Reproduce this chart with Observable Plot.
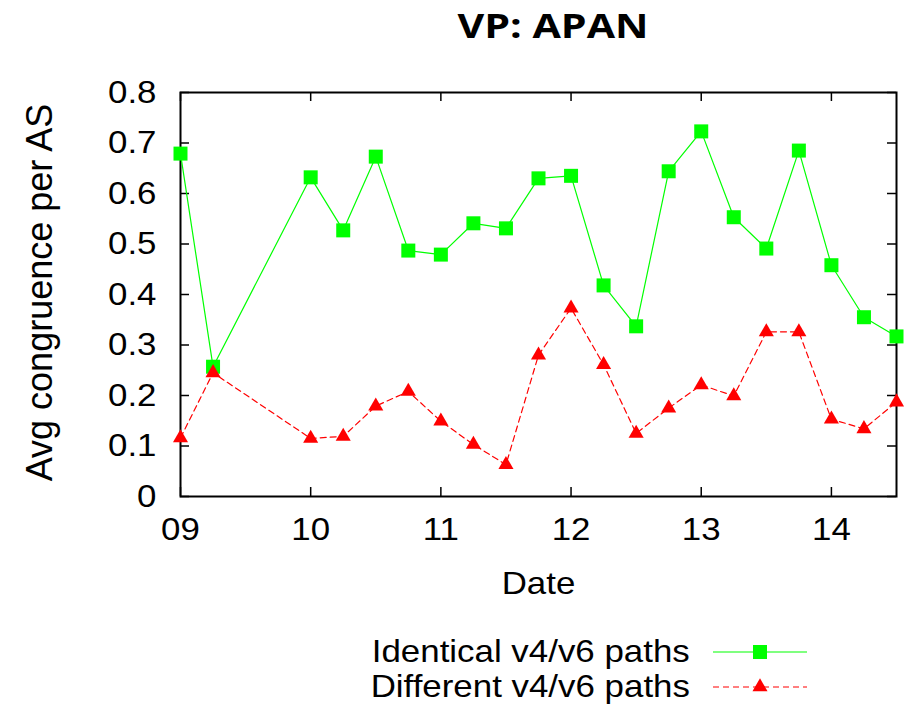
<!DOCTYPE html>
<html><head><meta charset="utf-8">
<script src="https://cdn.jsdelivr.net/npm/d3@7"></script>
<script src="https://cdn.jsdelivr.net/npm/@observablehq/plot@0.6"></script>
<style>
body{margin:0;background:#fff;width:906px;height:706px;overflow:hidden;}
#title{height:50px;line-height:50px;text-align:center;padding-left:200px;width:706px;color:#000;}
#title span{display:inline-block;font-family:"Open Sans",sans-serif;font-weight:700;font-size:34px;transform:scaleX(1.21);transform-origin:center;}
#chart{height:584px;}
#legend{font-family:"Liberation Sans",Arial,sans-serif;font-size:32px;color:#000;}
.lrow{display:flex;height:35px;line-height:35px;}
.ltxt{width:690px;text-align:right;white-space:nowrap;}
.ltxt span{display:inline-block;transform:scaleX(1.09);transform-origin:right center;}
.lrow svg{margin-left:23px;}
</style></head><body>
<div id="title"><span>VP: APAN</span></div>
<div id="chart"></div>
<div id="legend"></div>
<script>
const dates = [9, 9.25, 10, 10.25, 10.5, 10.75, 11, 11.25, 11.5, 11.75, 12, 12.25, 12.5, 12.75, 13, 13.25, 13.5, 13.75, 14, 14.25, 14.5];
const identical = [0.679, 0.257, 0.632, 0.527, 0.673, 0.487, 0.479, 0.541, 0.531, 0.630, 0.635, 0.418, 0.337, 0.644, 0.723, 0.553, 0.491, 0.685, 0.458, 0.355, 0.317];
const different = [0.116, 0.245, 0.115, 0.119, 0.179, 0.208, 0.149, 0.103, 0.063, 0.280, 0.373, 0.261, 0.125, 0.175, 0.221, 0.199, 0.326, 0.326, 0.153, 0.134, 0.187];
const seriesNames = ["Identical v4/v6 paths", "Different v4/v6 paths"];
const seriesColors = ["#00ff00", "#ff0000"];
const xTicks = [9, 10, 11, 12, 13, 14];
const xTickLabels = ["09", "10", "11", "12", "13", "14"];
const yTicks = [0, 0.1, 0.2, 0.3, 0.4, 0.5, 0.6, 0.7, 0.8];
const yTickLabels = ["0", "0.1", "0.2", "0.3", "0.4", "0.5", "0.6", "0.7", "0.8"];

const W = 906, H = 584, mL = 180, mR = 10, mT = 42, mB = 138;
const plotW = W - mL - mR, plotH = H - mT - mB;
const tick = 9;
const FS = 32, SX = 1.09;
const rowsI = dates.map((d, i) => ({date: d, value: identical[i]}));
const rowsD = dates.map((d, i) => ({date: d, value: different[i]}));

const chart = Plot.plot({
  width: W, height: H,
  marginLeft: mL, marginRight: mR, marginTop: mT, marginBottom: mB,
  style: {fontFamily: "'Liberation Sans', Arial, sans-serif", fontSize: FS + "px", color: "#000", background: "#fff", overflow: "visible"},
  x: {domain: [9, 14.5]},
  y: {domain: [0, 0.8]},
  marks: [
    Plot.axisX(xTicks, {tickSize: 0, tickPadding: 21, tickFormat: d => xTickLabels[xTicks.indexOf(d)], label: null, fontSize: FS}),
    Plot.axisY(yTicks, {tickSize: 0, tickPadding: 24, tickFormat: d => yTickLabels[yTicks.indexOf(d)], label: null, fontSize: FS}),
    Plot.ruleX(xTicks, {x: d => d, insetTop: plotH - tick, stroke: "#000", strokeWidth: 1.5}),
    Plot.ruleX(xTicks, {x: d => d, insetBottom: plotH - tick, stroke: "#000", strokeWidth: 1.5}),
    Plot.ruleY(yTicks, {y: d => d, insetRight: plotW - tick, stroke: "#000", strokeWidth: 1.5}),
    Plot.ruleY(yTicks, {y: d => d, insetLeft: plotW - tick, stroke: "#000", strokeWidth: 1.5}),
    Plot.frame({stroke: "#000", strokeWidth: 2}),
    Plot.text(["Date"], {text: d => d, frameAnchor: "bottom", dy: 87, lineAnchor: "middle", fontSize: FS}),
    Plot.text(["Avg congruence per AS"], {text: d => d, frameAnchor: "left", dx: -140, dy: -2, rotate: -90, textAnchor: "middle", lineAnchor: "middle", fontSize: 36}),
    Plot.line(rowsI, {x: "date", y: "value", stroke: seriesColors[0], strokeWidth: 1.2}),
    Plot.dot(rowsI, {x: "date", y: "value", symbol: "square", r: 7.9, fill: seriesColors[0], stroke: "none"}),
    Plot.line(rowsD, {x: "date", y: "value", stroke: seriesColors[1], strokeWidth: 1.2, strokeDasharray: "6,4"}),
    Plot.dot(rowsD, {x: "date", y: "value", symbol: "triangle", r: 5.6, fill: seriesColors[1], stroke: "none"})
  ]
});
// widen horizontal texts slightly, as in the reference rendering
chart.querySelectorAll("text").forEach(t => {
  const tr = t.getAttribute("transform") || "";
  if (tr.includes("rotate")) return;
  if (tr) {
    t.setAttribute("transform", tr + ` scale(${SX},1)`);
  } else {
    const x = +(t.getAttribute("x") || 0), y = +(t.getAttribute("y") || 0);
    t.removeAttribute("x"); t.removeAttribute("y");
    t.setAttribute("transform", `translate(${x},${y}) scale(${SX},1)`);
  }
});
document.getElementById("chart").appendChild(chart);

const legend = document.getElementById("legend");
seriesNames.forEach((name, i) => {
  const row = document.createElement("div");
  row.className = "lrow";
  const t = document.createElement("div");
  t.className = "ltxt";
  const s = document.createElement("span");
  s.textContent = name;
  t.appendChild(s);
  row.appendChild(t);
  const ns = "http://www.w3.org/2000/svg";
  const svg = document.createElementNS(ns, "svg");
  svg.setAttribute("width", 94); svg.setAttribute("height", 35);
  const ln = document.createElementNS(ns, "line");
  ln.setAttribute("x1", 0); ln.setAttribute("x2", 94); ln.setAttribute("y1", 18); ln.setAttribute("y2", 18);
  ln.setAttribute("stroke", seriesColors[i]); ln.setAttribute("stroke-width", 1.2);
  if (i === 1) ln.setAttribute("stroke-dasharray", "6,4");
  svg.appendChild(ln);
  const p = document.createElementNS(ns, "path");
  const r = i === 0 ? 7.9 : 5.6;
  p.setAttribute("d", d3.symbol(i === 0 ? d3.symbolSquare : d3.symbolTriangle, Math.PI * r * r)());
  p.setAttribute("transform", "translate(47,18)");
  p.setAttribute("fill", seriesColors[i]);
  svg.appendChild(p);
  row.appendChild(svg);
  legend.appendChild(row);
});
</script>
</body></html>
